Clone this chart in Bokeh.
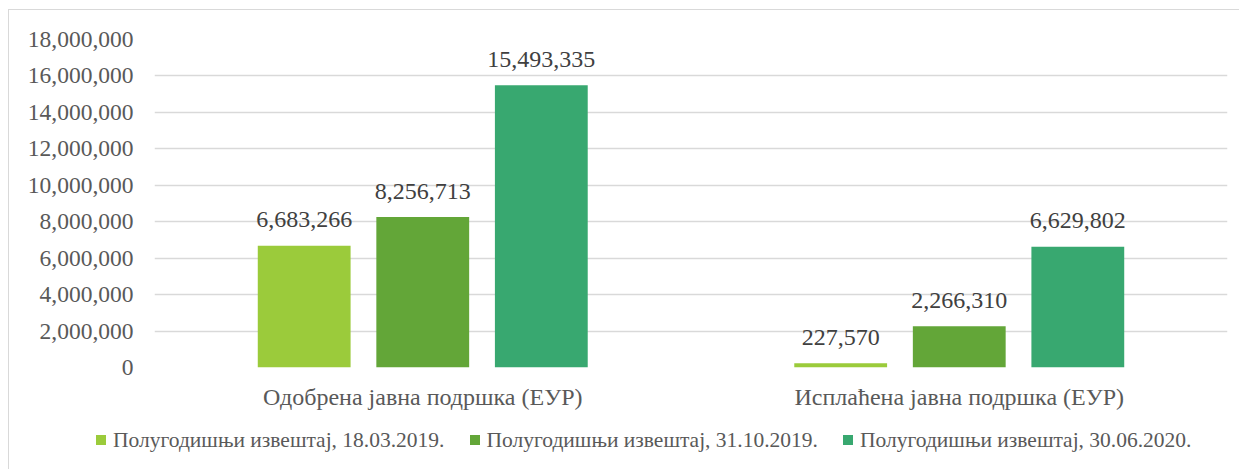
from bokeh.plotting import figure
from bokeh.models import ColumnDataSource, FactorRange, NumeralTickFormatter, Range1d, SingleIntervalTicker, Div
from bokeh.layouts import column
from bokeh.transform import dodge
from bokeh.embed import file_html
from bokeh.resources import INLINE
from bokeh.core.properties import value

categories = ["Одобрена јавна подршка (ЕУР)", "Исплаћена јавна подршка (ЕУР)"]
series_names = ["Полугодишњи извештај, 18.03.2019.",
                "Полугодишњи извештај, 31.10.2019.",
                "Полугодишњи извештај, 30.06.2020."]
s1 = [6683266, 227570]
s2 = [8256713, 2266310]
s3 = [15493335, 6629802]
colors = ["#9BCB3B", "#63A638", "#38A870"]

FONT = "Liberation Serif"
TXT = "#595959"

src = ColumnDataSource(dict(
    cat=categories, s1=s1, s2=s2, s3=s3,
    l1=[f"{v:,}" for v in s1], l2=[f"{v:,}" for v in s2], l3=[f"{v:,}" for v in s3],
))

p = figure(x_range=FactorRange(*categories, range_padding=0), y_range=Range1d(0, 18000000),
           width=1230, height=409, output_backend="svg", toolbar_location=None,
           min_border_left=145, min_border_right=12, min_border_top=29, min_border_bottom=52)

bw = 0.173
off = 0.221
for i, (col, lab, c) in enumerate(zip(["s1", "s2", "s3"], ["l1", "l2", "l3"], colors)):
    d = (i - 1) * off
    p.vbar(x=dodge("cat", d, range=p.x_range), top=col, width=bw, source=src,
           fill_color=c, line_color=None)
    p.text(x=dodge("cat", d, range=p.x_range), y=col, text=lab, source=src,
           text_align="center", text_baseline="alphabetic", y_offset=-26,
           text_font=value(FONT), text_font_size="24px", text_color="#404040")

p.yaxis.formatter = NumeralTickFormatter(format="0,0")
p.yaxis.ticker = SingleIntervalTicker(interval=2000000)
for ax in (p.xaxis, p.yaxis):
    ax.axis_line_color = None
    ax.major_tick_line_color = None
    ax.minor_tick_line_color = None
    ax.major_label_text_font = FONT
    ax.major_label_text_color = TXT
    ax.major_label_text_font_size = "23.5px"
p.xaxis.major_label_text_font_size = "24px"
p.yaxis.major_label_standoff = 15
p.xaxis.major_label_standoff = 10

p.xgrid.grid_line_color = None
p.ygrid.grid_line_color = "#d9d9d9"
p.ygrid.grid_line_width = 1.5
p.outline_line_color = None

# legend as an HTML strip (series names and colours from the arrays above)
parts = []
for k, (n, c) in enumerate(zip(series_names, colors)):
    ml = "0px" if k == 0 else "25px"
    parts.append(
        f'<span style="display:inline-flex;align-items:center;margin-left:{ml};">'
        f'<span style="display:inline-block;width:10px;height:10px;background:{c};margin-right:7px;"></span>'
        f'<span>{n}</span></span>'
    )
legend_html = (
    f'<div style="display:flex;align-items:center;height:42px;padding-left:87px;'
    f'font-family:\'{FONT}\';font-size:21.5px;color:{TXT};white-space:nowrap;">'
    + "".join(parts) + "</div>"
)
lg = Div(text=legend_html, width=1230, height=50, margin=0)

layout = column(p, lg, spacing=0, margin=(9, 0, 0, 8),
                styles={"border-left": "1.5px solid #d9d9d9", "border-top": "1.5px solid #d9d9d9"})

open("out.html", "w").write(file_html(layout, INLINE))
